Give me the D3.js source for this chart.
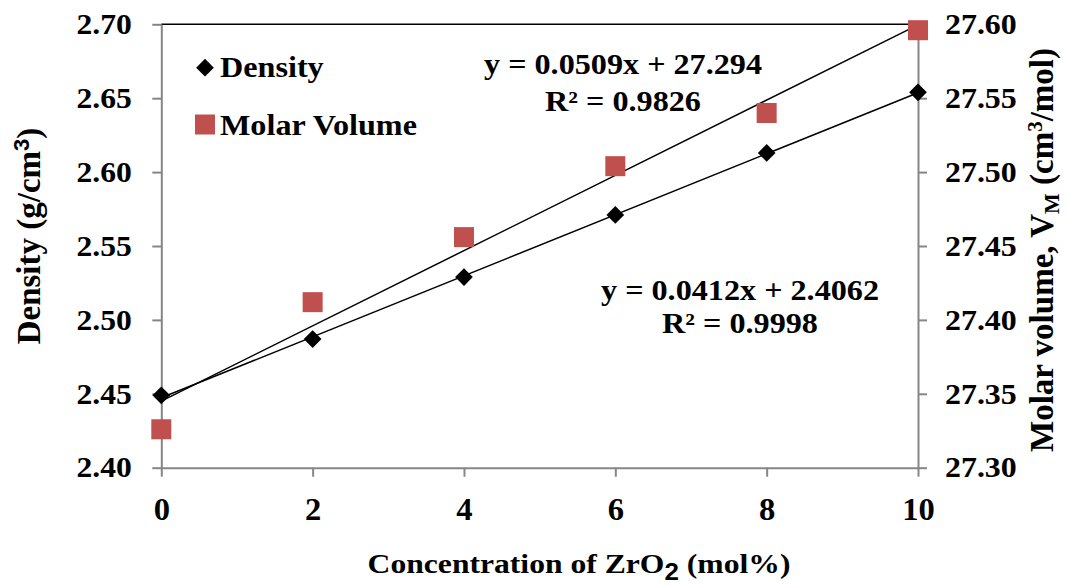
<!DOCTYPE html>
<html>
<head>
<meta charset="utf-8">
<script src="https://cdn.jsdelivr.net/npm/d3@7"></script>
<style>
  body { margin: 0; background: #fff; }
</style>
</head>
<body>
<div id="chart"></div>
<script>
const conc = [0, 2, 4, 6, 8, 10];
const density = [2.449, 2.487, 2.529, 2.571, 2.613, 2.654];
const molarVolume = [27.326, 27.412, 27.456, 27.504, 27.540, 27.596];
const xTicks = [0, 2, 4, 6, 8, 10];
const leftTicks = [2.40, 2.45, 2.50, 2.55, 2.60, 2.65, 2.70];
const rightTicks = [27.30, 27.35, 27.40, 27.45, 27.50, 27.55, 27.60];
const eqMolar = ["y = 0.0509x + 27.294", "R² = 0.9826"];
const eqDensity = ["y = 0.0412x + 2.4062", "R² = 0.9998"];

const W = 1067, H = 586;
const plotL = 161.3, plotR = 918, plotT = 24.3, plotB = 467.7;
const serif = '"Liberation Serif", Tinos, "Times New Roman", serif';
const sans = '"Liberation Sans", Arimo, Arial, sans-serif';
const stretch = 1.11;

const svg = d3.select("#chart").append("svg")
  .attr("width", W).attr("height", H)
  .attr("font-family", serif).attr("font-weight", "bold");

const x = d3.scaleLinear().domain([0, 10]).range([plotL, plotR]);
const yL = d3.scaleLinear().domain([2.40, 2.70]).range([plotB, plotT]);
const yR = d3.scaleLinear().domain([27.30, 27.60]).range([plotB, plotT]);

// least squares fit
function fit(xs, ys) {
  const mx = d3.mean(xs), my = d3.mean(ys);
  let sxy = 0, sxx = 0;
  xs.forEach((v, i) => { sxy += (v - mx) * (ys[i] - my); sxx += (v - mx) * (v - mx); });
  const m = sxy / sxx;
  return { m: m, b: my - m * mx };
}

// horizontally stretched text (the reference glyphs are wider than tall)
function label(px, py, str, size, anchor, s) {
  return svg.append("g")
    .attr("transform", `translate(${px},${py}) scale(${s || stretch},1)`)
    .append("text")
    .attr("text-anchor", anchor || "start")
    .attr("font-size", size)
    .text(str);
}

const axisColor = "#868686";

// top border line
svg.append("line")
  .attr("x1", plotL).attr("x2", plotR)
  .attr("y1", plotT).attr("y2", plotT)
  .attr("stroke", "#000").attr("stroke-width", 1.5);

function styleAxis(g, size, s) {
  g.attr("font-family", serif).attr("font-size", size).attr("font-weight", "bold");
  g.select(".domain").attr("stroke", axisColor).attr("stroke-width", 2);
  g.selectAll(".tick line").attr("stroke", axisColor).attr("stroke-width", 2);
  g.selectAll(".tick text").attr("fill", "#000").each(function() {
    const t = d3.select(this);
    const tx = +t.attr("x") || 0, ty = +t.attr("y") || 0;
    t.attr("x", 0).attr("y", 0).attr("transform", `translate(${tx},${ty}) scale(${s},1)`);
  });
}

svg.append("g")
  .attr("transform", `translate(0,${plotB})`)
  .call(d3.axisBottom(x).tickValues(xTicks).tickSize(9).tickSizeOuter(0).tickPadding(21))
  .call(styleAxis, 31, 1.05);

svg.append("g")
  .attr("transform", `translate(${plotL},0)`)
  .call(d3.axisLeft(yL).tickValues(leftTicks).tickFormat(d3.format(".2f")).tickSize(9).tickSizeOuter(0).tickPadding(20.5))
  .call(styleAxis, 29, 1.09);

svg.append("g")
  .attr("transform", `translate(${plotR},0)`)
  .call(d3.axisRight(yR).tickValues(rightTicks).tickFormat(d3.format(".2f")).tickSize(9).tickSizeOuter(0).tickPadding(18))
  .call(styleAxis, 29, 1.1);

// trend lines
const fD = fit(conc, density);
const fM = fit(conc, molarVolume);
svg.append("line")
  .attr("x1", x(0)).attr("y1", yL(fD.b))
  .attr("x2", x(10)).attr("y2", yL(fD.b + fD.m * 10))
  .attr("stroke", "#000").attr("stroke-width", 1.5);
svg.append("line")
  .attr("x1", x(0)).attr("y1", yR(fM.b))
  .attr("x2", x(10)).attr("y2", yR(fM.b + fM.m * 10))
  .attr("stroke", "#000").attr("stroke-width", 1.5);

// markers
const red = "#C0504D";
const sq = 20;
svg.selectAll("rect.mv").data(conc).enter().append("rect")
  .attr("class", "mv")
  .attr("x", d => x(d) - sq / 2)
  .attr("y", (d, i) => yR(molarVolume[i]) - sq / 2)
  .attr("width", sq).attr("height", sq)
  .attr("fill", red);

const diamond = d3.symbol().type(d3.symbolDiamond2).size(200);
svg.selectAll("path.dn").data(conc).enter().append("path")
  .attr("class", "dn")
  .attr("d", diamond)
  .attr("transform", (d, i) => `translate(${x(d)},${yL(density[i])})`)
  .attr("fill", "#000");

// legend
svg.append("path").attr("d", diamond)
  .attr("transform", "translate(205,67.7)").attr("fill", "#000");
label(220, 77.3, "Density", 29);
svg.append("rect").attr("x", 195).attr("y", 114.5).attr("width", 20).attr("height", 20).attr("fill", red);
label(220, 135, "Molar Volume", 29);

// equations
label(623, 74, eqMolar[0], 29, "middle");
label(623, 111, eqMolar[1], 29, "middle");
label(740, 300, eqDensity[0], 29, "middle");
label(740, 333, eqDensity[1], 29, "middle");

// axis titles
const xt = label(579, 572.7, "", 28, "middle", 1.13);
xt.append("tspan").text("Concentration of ZrO");
xt.append("tspan").attr("dy", 7).attr("font-family", sans).attr("font-size", 23).text("2");
xt.append("tspan").attr("dy", -7).text(" (mol%)");

const yt = svg.append("text").attr("transform", "translate(39.5,236) rotate(-90)")
  .attr("text-anchor", "middle").attr("font-size", 33);
yt.append("tspan").text("Density (g/cm");
yt.append("tspan").attr("dy", -11).attr("font-family", sans).attr("font-size", 22).text("3");
yt.append("tspan").attr("dy", 11).text(")");

const rt = svg.append("text").attr("transform", "translate(1053,250) rotate(-90)")
  .attr("text-anchor", "middle").attr("font-size", 33);
rt.append("tspan").text("Molar volume, V");
rt.append("tspan").attr("dy", 6).attr("font-size", 22).text("M");
rt.append("tspan").attr("dy", -6).text(" (cm");
rt.append("tspan").attr("dy", -11).attr("font-size", 21).text("3");
rt.append("tspan").attr("dy", 11).text("/mol)");
</script>
</body>
</html>
